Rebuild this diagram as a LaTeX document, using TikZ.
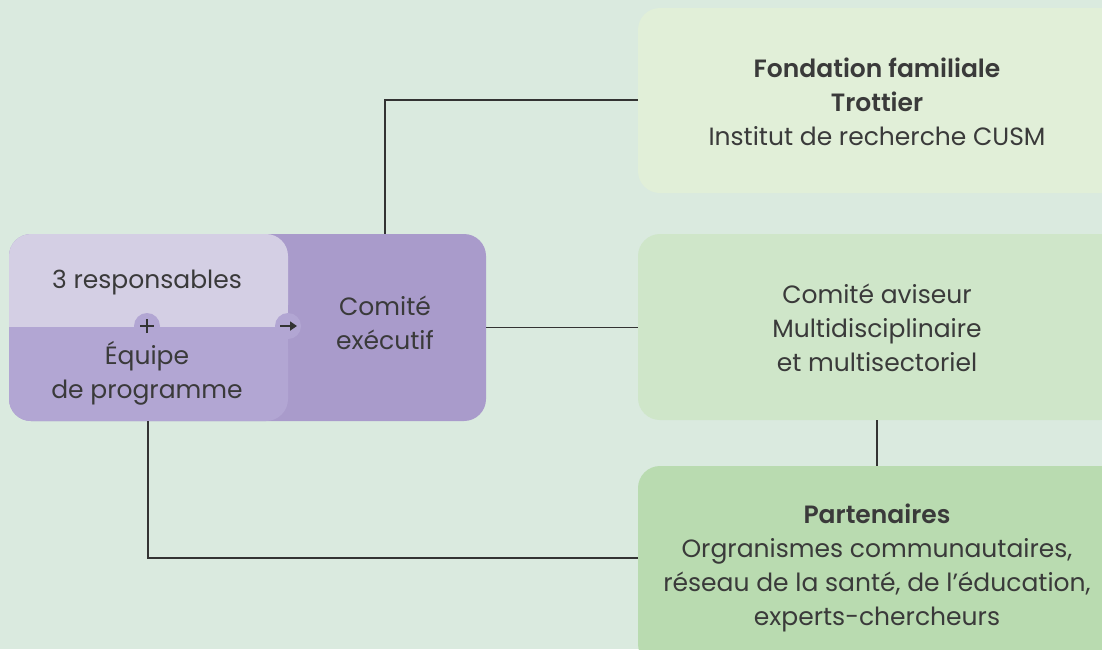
\documentclass[tikz,border=0pt]{standalone}
\usepackage{fontspec}
\setmainfont{Poppins}[BoldFont={Poppins SemiBold}]
\usetikzlibrary{arrows.meta}
\definecolor{bg}{HTML}{DAEADF}
\definecolor{boxA}{HTML}{E1EFD8}
\definecolor{boxB}{HTML}{CFE6C9}
\definecolor{boxC}{HTML}{B9DBB0}
\definecolor{purD}{HTML}{A99BCB}
\definecolor{purL}{HTML}{D4CFE4}
\definecolor{purM}{HTML}{B2A6D3}
\definecolor{txt}{HTML}{3A3A3A}
\definecolor{ln}{HTML}{333333}
\tikzset{
  greenbox/.style={rectangle, rounded corners=22pt, minimum width=484pt, inner sep=0pt},
  lbl/.style={align=center, text=txt, font=\fontsize{25}{34}\selectfont, inner sep=0pt},
  conn/.style={draw=ln, line width=1.8pt},
  dot/.style={circle, fill=purM, minimum size=26pt, inner sep=0pt}
}
\begin{document}
\begin{tikzpicture}[x=1pt,y=-1pt]
\useasboundingbox (0,0) rectangle (1102,649);
\fill[bg] (0,0) rectangle (1102,649);
\coordinate (c1) at (385,100);
\coordinate (c2) at (148,558);
% green boxes
\node[greenbox, fill=boxA, minimum height=185pt] (fond) at (880,100.5) {};
\node[greenbox, fill=boxB, minimum height=186pt] (avis) at (880,327) {};
\node[greenbox, fill=boxC, minimum height=200pt] (part) at (880,566) {};
% left purple box
\node[rectangle, rounded corners=22pt, fill=purD, minimum width=477pt, minimum height=187pt, inner sep=0pt] (exec) at (247.5,327.5) {};
\fill[purL, rounded corners=22pt] (9,327) -- (9,234) -- (288,234) -- (288,327) [sharp corners] -- cycle;
\fill[purL] (9,300) rectangle (288,327);
\fill[purM, rounded corners=22pt] (9,327) -- (9,421) -- (288,421) -- (288,327) [sharp corners] -- cycle;
\fill[purM] (9,327) rectangle (288,350);
% connectors
\draw[conn] (exec.north -| c1) -- (c1) -- (c1 -| fond.west);
\draw[conn] (exec.east) -- (exec.east -| avis.west);
\draw[conn] (avis.south -| 877,0) -- (part.north -| 877,0);
\draw[conn] (exec.south -| c2) -- (c2) -- (c2 -| part.west);
% circles
\node[dot] (plus) at (147,326) {};
\draw[ln, line width=2.4pt] ([xshift=-7pt]plus.center) -- ([xshift=7pt]plus.center) ([yshift=-7pt]plus.center) -- ([yshift=7pt]plus.center);
\node[dot] (arr) at (288,326) {};
\draw[ln, line width=2.6pt, -{Triangle[length=7pt,width=9pt]}] ([xshift=-8pt]arr.center) -- ([xshift=9pt]arr.center);
% texts
\node[lbl] (resp) at (147,282) {3 responsables};
\node[lbl] (equipe) at (147,373) {Équipe\\de programme};
\node[lbl] (comex) at (385,323) {Comité\\exécutif};
\node[lbl] (fondt) at (877,102) {\textbf{Fondation familiale}\\\textbf{Trottier}\\Institut de recherche CUSM};
\node[lbl] (avist) at (877,328) {Comité aviseur\\Multidisciplinaire\\et multisectoriel};
\node[lbl] (partt) at (877,568) {\textbf{Partenaires}\\Orgranismes communautaires,\\réseau de la santé, de l’éducation,\\experts-chercheurs};
\end{tikzpicture}
\end{document}
